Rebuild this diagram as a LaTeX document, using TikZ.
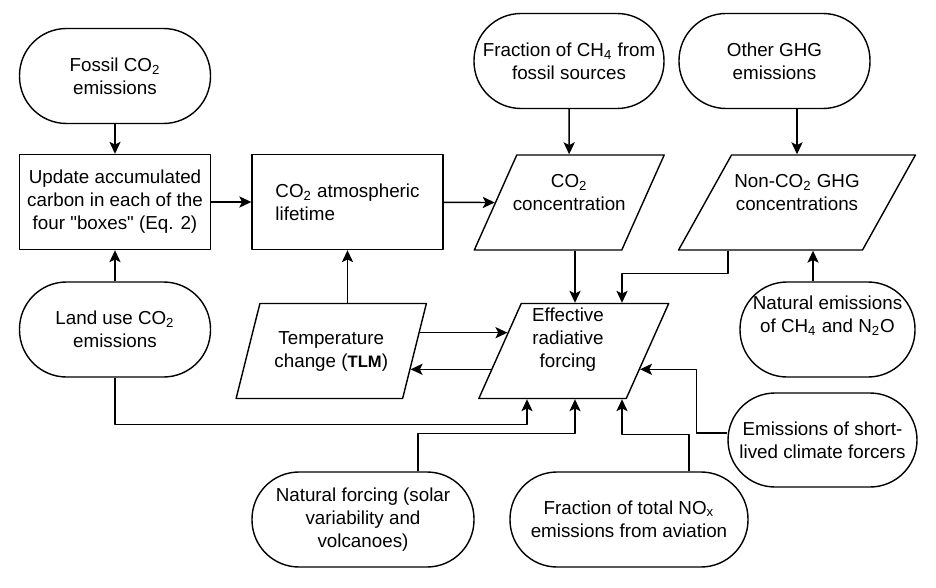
\documentclass[tikz,border=0pt]{standalone}
\usepackage{fontspec}
\setmainfont{Liberation Sans}
\usetikzlibrary{shapes.geometric,arrows.meta,calc}
\begin{document}
\begin{tikzpicture}[x=0.5pt,y=-0.5pt,font=\fontsize{9.4}{11.5}\selectfont,line join=round,line width=0.7pt,>={Stealth[length=6pt,width=5.6pt,inset=1.4pt]},
	stad/.style={draw,rectangle,rounded corners=23.5pt,minimum height=47.5pt,align=center,inner sep=1pt},
	box/.style={draw,rectangle,minimum width=95.5pt,minimum height=47.5pt,align=center},
	para/.style={draw,trapezium,trapezium left angle=68,trapezium right angle=112,trapezium stretches=true,minimum height=47.5pt,inner sep=3pt}]
	\useasboundingbox (0,0) rectangle (936,588);
	\node[stad,minimum width=95.5pt] (fossil) at (115,76) {Fossil CO\textsubscript{2}\\emissions};
	\node[box] (update) at (115,202) {Update accumulated\\carbon in each of the\\four \textquotedbl boxes\textquotedbl{} (Eq. 2)};
	\node[box,align=left] (life) at (347.5,202) {CO\textsubscript{2} atmospheric\\lifetime};
	\node[stad,minimum width=95pt] (ch4) at (569,61) {Fraction of CH\textsubscript{4} from\\fossil sources};
	\node[stad,minimum width=95.5pt] (ghg) at (774.5,61) {Other GHG\\emissions};
	\node[para,minimum width=95pt] (conc) at (569.25,202.5) {};
	\node[align=center] (conc-t) at ([yshift=5pt]conc.center) {CO\textsubscript{2}\\concentration};
	\node[para,minimum width=118.5pt] (nonco2) at (797,202.5) {};
	\node[align=center] (nonco2-t) at ([yshift=5pt]nonco2.center) {Non-CO\textsubscript{2} GHG\\concentrations};
	\node[stad,minimum width=95.5pt] (land) at (115,329.5) {Land use CO\textsubscript{2}\\emissions};
	\node[para,minimum width=95.5pt,align=center] (temp) at (331.25,351) {Temperature\\change ({\fontsize{8.3}{10}\selectfont\bfseries TLM})};
	\node[para,minimum width=95pt] (erf) at (573.75,351) {};
	\node[align=center] (erf-t) at ([xshift=-2.9pt,yshift=5.5pt]erf.center) {Effective\\radiative\\forcing};
	\node[stad,minimum width=87.5pt] (natem) at (827.5,329.5) {};
	\node[align=center] (natem-t) at ([yshift=6.75pt]natem.center) {Natural emissions\\of CH\textsubscript{4} and N\textsubscript{2}O};
	\node[stad,minimum width=94.5pt,minimum height=47pt] (short) at (822.5,440) {Emissions of short-\\lived climate forcers};
	\node[stad,minimum width=111pt] (natforce) at (363,519.5) {Natural forcing (solar\\variability and\\volcanoes)};
	\node[stad,minimum width=119pt] (nox) at (629,519.5) {Fraction of total NO\textsubscript{x}\\emissions from aviation};

	\draw[->] (fossil) -- (update);
	\draw[->] (update) -- (life);
	\draw[->] (life) -- (conc.west);
	\draw[->] (ch4) -- (conc);
	\draw[->] (ghg.south -| nonco2.center) -- (nonco2);
	\draw[->] (land) -- (update);
	\draw[->] (life.south |- temp.north) -- (life);
	\draw[->] (575,0 |- conc.south) -- (575,0 |- erf.north);
	\draw[->] (728,0 |- nonco2.south) -- ++(0,23) -| (622,0 |- erf.north);
	\draw[->] (813,0 |- natem.north) -- (813,0 |- nonco2.south);
	\draw[->] ($(temp.top right corner)!0.31!(temp.bottom right corner)$) -- ($(erf.top left corner)!0.31!(erf.bottom left corner)$);
	\draw[->] ($(erf.top left corner)!0.69!(erf.bottom left corner)$) -- ($(temp.top right corner)!0.69!(temp.bottom right corner)$);
	\draw[->] (land.south) -- ++(0,47) -| (527,0 |- erf.south);
	\draw[->] (418,0 |- natforce.north) -- ++(0,-38) -| (575,0 |- erf.south);
	\draw[->] (689,0 |- nox.north) -- ++(0,-37) -| (622,0 |- erf.south);
	\draw[->] ([yshift=3.5pt]short.west) -- ++(-31,0) |- ($(erf.top right corner)!0.69!(erf.bottom right corner)$);
\end{tikzpicture}
\end{document}
